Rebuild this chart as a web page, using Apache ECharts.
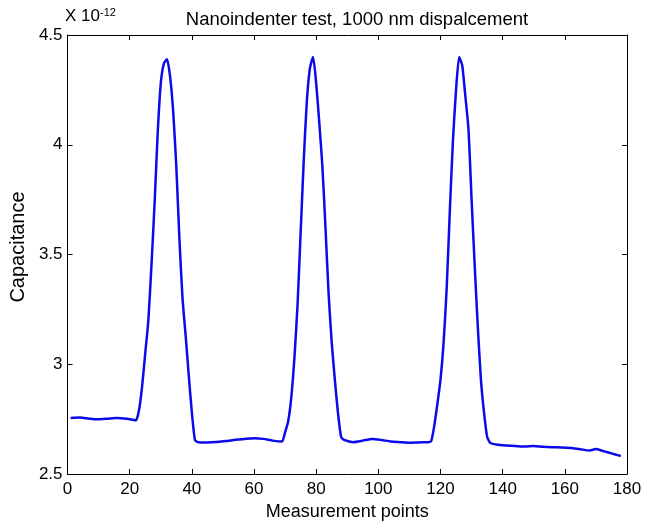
<!DOCTYPE html>
<html>
<head>
<meta charset="utf-8">
<script src="https://cdn.jsdelivr.net/npm/echarts@6/dist/echarts.min.js"></script>
<style>
  html, body { margin: 0; padding: 0; background: #fff; }
  #chart { width: 653px; height: 526px; }
</style>
</head>
<body>
<div id="chart"></div>
<script>
var pointsX = [
  1, 4, 7, 10, 13, 16, 19, 21, 22,
  23, 24, 25, 26, 27, 28, 29, 30, 31, 32, 33, 34, 35, 36, 37, 38, 39, 40, 41, 42,
  45, 48, 51, 54, 57, 60, 63, 66, 69,
  70, 71, 72, 73, 74, 75, 76, 77, 78, 79, 80, 81, 82, 83, 84, 85, 86, 87, 88, 89,
  92, 95, 98, 101, 104, 107, 110, 113, 116, 117,
  118, 119, 120, 121, 122, 123, 124, 125, 126, 127, 128, 129, 130, 131, 132, 133, 134, 135, 136,
  138, 141, 144, 147, 150, 153, 156, 159, 162, 165, 168, 170, 172, 174, 176, 178
];
// capacitance, units of 1e-12
var capValues = [
  2.755, 2.757, 2.752, 2.749, 2.752, 2.755, 2.752, 2.747, 2.744,
  2.79, 2.90, 3.05, 3.20, 3.45, 3.73, 4.05, 4.28, 4.37, 4.39, 4.31, 4.15, 3.90, 3.57, 3.30, 3.13, 2.95, 2.78, 2.655, 2.645,
  2.644, 2.646, 2.650, 2.656, 2.660, 2.663, 2.660, 2.652, 2.648,
  2.69, 2.74, 2.85, 3.03, 3.27, 3.60, 3.93, 4.20, 4.35, 4.40, 4.28, 4.10, 3.90, 3.62, 3.32, 3.10, 2.93, 2.78, 2.67, 2.655,
  2.645, 2.652, 2.660, 2.655, 2.648, 2.645, 2.642, 2.644, 2.645, 2.650,
  2.72, 2.82, 2.93, 3.10, 3.35, 3.70, 4.02, 4.25, 4.40, 4.36, 4.22, 4.07, 3.75, 3.45, 3.17, 2.93, 2.78, 2.67, 2.642,
  2.634, 2.630, 2.628, 2.625, 2.628, 2.624, 2.622, 2.621, 2.618, 2.613, 2.607, 2.614, 2.606, 2.598, 2.590, 2.582
];
var xTicks = [0, 20, 40, 60, 80, 100, 120, 140, 160, 180];
var yTicks = [2.5, 3, 3.5, 4, 4.5];

var chart = echarts.init(document.getElementById("chart"));
var fontFam = "Liberation Sans, Arial, sans-serif";

var seriesData = pointsX.map(function (x, i) {
  return [x, capValues[i]];
});

function axisBase(pos, showLabels, ticks) {
  return {
    type: "value",
    position: pos,
    min: ticks[0],
    max: ticks[ticks.length - 1],
    interval: ticks[1] - ticks[0],
    axisLine: { show: true, onZero: false, lineStyle: { color: "#000", width: 1 } },
    axisTick: { show: true, inside: true, length: 5, lineStyle: { color: "#000" } },
    axisLabel: { show: showLabels, color: "#000", fontSize: 17, fontFamily: fontFam },
    splitLine: { show: false },
  };
}

var xBottom = axisBase("bottom", true, xTicks);
xBottom.axisLabel.margin = 7;
xBottom.name = "Measurement points";
xBottom.nameLocation = "middle";
xBottom.nameGap = 29;
xBottom.nameTextStyle = { color: "#000", fontSize: 18, fontFamily: fontFam };

var xTop = axisBase("top", false, xTicks);

var yLeft = axisBase("left", true, yTicks);
yLeft.axisLabel.margin = 5;
yLeft.name = "Capacitance";
yLeft.nameLocation = "middle";
yLeft.nameGap = 31;
yLeft.nameTextStyle = { color: "#000", fontSize: 20, fontFamily: fontFam, padding: [0, 0, 0, 15] };

var yRight = axisBase("right", false, yTicks);

var option = {
  backgroundColor: "#fff",
  animation: false,
  grid: { left: 66, right: 26, top: 35, bottom: 49 },
  title: {
    text: "Nanoindenter test, 1000 nm dispalcement",
    left: 352,
    textAlign: "center",
    top: 5,
    textStyle: { color: "#000", fontSize: 18.5, fontWeight: "normal", fontFamily: fontFam },
  },
  graphic: [
    {
      type: "text",
      left: 65,
      top: 7,
      style: {
        text: "{a|X 10}{b|-12}",
        rich: {
          a: { fontSize: 17, fill: "#000", fontFamily: fontFam },
          b: { fontSize: 11, fill: "#000", fontFamily: fontFam, verticalAlign: "top", padding: [0, 0, 8, 0] },
        },
      },
    },
  ],
  xAxis: [xBottom, xTop],
  yAxis: [yLeft, yRight],
  series: [
    {
      type: "line",
      xAxisIndex: 0,
      yAxisIndex: 0,
      data: seriesData,
      showSymbol: false,
      smooth: 0.2,
      lineStyle: { color: "#0a0aeb", width: 2.5 },
    },
  ],
};
chart.setOption(option);
</script>
</body>
</html>
